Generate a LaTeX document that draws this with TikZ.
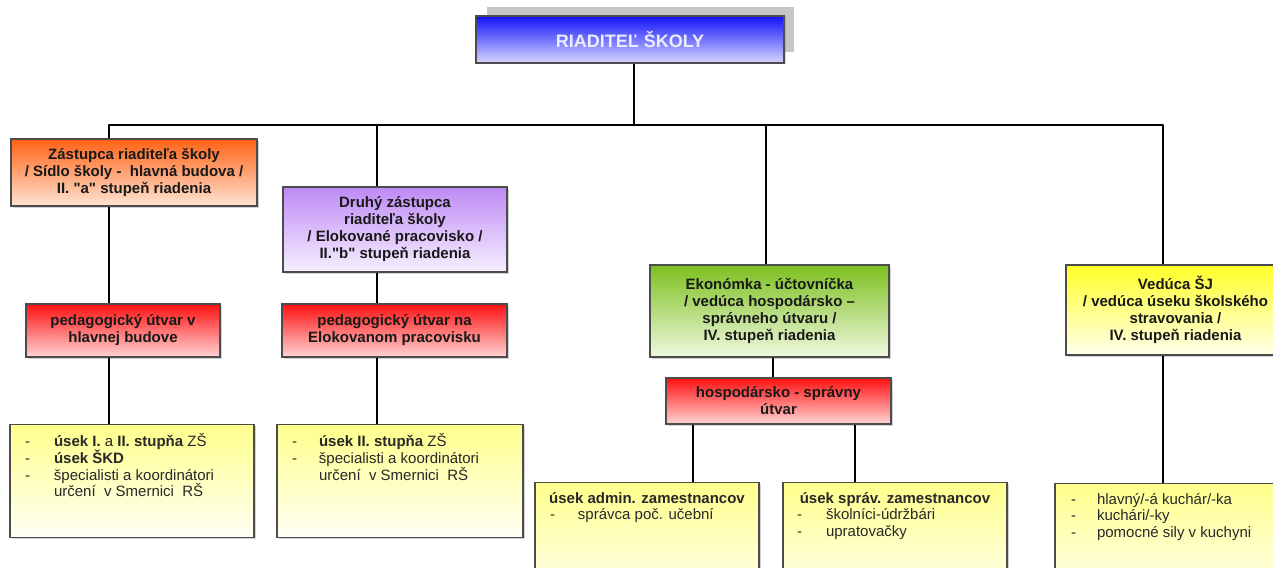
\documentclass[tikz,border=0pt]{standalone}
\usepackage{fontspec}
\setmainfont{Liberation Sans}[Ligatures=TeXOff]
\usetikzlibrary{shadows}

\definecolor{modraH}{RGB}{18,18,250}
\definecolor{modraD}{RGB}{215,215,255}
\definecolor{oranzH}{RGB}{255,98,20}
\definecolor{oranzD}{RGB}{255,228,212}
\definecolor{fialH}{RGB}{190,138,245}
\definecolor{fialD}{RGB}{246,240,255}
\definecolor{cervH}{RGB}{255,16,16}
\definecolor{cervD}{RGB}{255,212,212}
\definecolor{zelH}{RGB}{124,192,30}
\definecolor{zelD}{RGB}{240,248,224}
\definecolor{zltH}{RGB}{255,255,40}
\definecolor{zltD}{RGB}{255,255,235}
\definecolor{zltsH}{RGB}{255,255,140}
\definecolor{zltsD}{RGB}{255,255,246}
\definecolor{textS}{RGB}{40,40,40}

\tikzset{
    box/.style={draw=black!70, line width=1.2pt, inner sep=0pt, align=center,
        text=black!90, font=\bfseries\fontsize{15}{17}\selectfont,
        drop shadow={shadow xshift=1.5pt, shadow yshift=-1.5pt, opacity=0.35}},
    usek/.style={box, top color=zltsH, bottom color=zltsD, anchor=north,
        text=textS, font=\fontsize{15}{16.7}\selectfont},
    conn/.style={line width=2.8pt, line join=round}
}

\begin{document}
\begin{tikzpicture}[x=1pt, y=-1pt]
            \useasboundingbox (0,0) rectangle (1273,567);
            \clip (0,0) rectangle (1273,567);

            % Draw the head box with its grey backing
            \fill[gray!45] (487,7) rectangle (794,52);
            \node[box, top color=modraH, bottom color=modraD, minimum width=308, minimum height=47,
                text={rgb,255:red,236;green,236;blue,255}, font=\bfseries\fontsize{18}{20}\selectfont]
                (riad) at (630,39.5) {RIADITEĽ ŠKOLY};

            % Draw the second level
            \node[box, top color=oranzH, bottom color=oranzD, minimum width=246, minimum height=67]
                (zast) at (134,172.5) {Zástupca riaditeľa školy\\/ Sídlo školy -\ \ hlavná budova /\\II. "a" stupeň riadenia};
            \node[box, top color=fialH, bottom color=fialD, minimum width=224, minimum height=85]
                (druhy) at (395,229.5) {Druhý zástupca\\riaditeľa školy\\/ Elokované pracovisko /\\II."b" stupeň riadenia};
            \node[box, top color=zelH, bottom color=zelD, minimum width=239, minimum height=92]
                (ekon) at (769.5,311) {Ekonómka - účtovníčka\\/ vedúca hospodársko –\\správneho útvaru /\\IV. stupeň riadenia};
            \node[box, top color=zltH, bottom color=zltD, minimum width=219, minimum height=90]
                (veduca) at (1175.5,310) {Vedúca ŠJ\\/ vedúca úseku školského\\stravovania /\\IV. stupeň riadenia};

            % Draw the red units
            \node[box, top color=cervH, bottom color=cervD, minimum width=194, minimum height=53]
                (ped1) at (123,330.5) {pedagogický útvar v\\hlavnej budove};
            \node[box, top color=cervH, bottom color=cervD, minimum width=225, minimum height=53]
                (ped2) at (394.5,330.5) {pedagogický útvar na\\Elokovanom pracovisku};
            \node[box, top color=cervH, bottom color=cervD, minimum width=225, minimum height=46]
                (hosp) at (778.5,401) {hospodársko - správny\\útvar};

            % Draw the bottom boxes
            \node[usek, minimum width=244, minimum height=113] (usek1) at (132,424)
                {\begin{minipage}[c][113pt][t]{244pt}\setlength{\lineskiplimit}{-20pt}\vspace*{9pt}\raggedright
                \hspace*{15pt}\makebox[29pt][l]{-}\textbf{úsek I.} a \textbf{II. stupňa} ZŠ\strut\par
                \hspace*{15pt}\makebox[29pt][l]{-}\textbf{úsek ŠKD}\strut\par
                \hspace*{15pt}\makebox[29pt][l]{-}špecialisti a koordinátori\strut\par
                \hspace*{44pt}určení\ \ v Smernici\ \ RŠ\strut\par
                \end{minipage}};
            \node[usek, minimum width=246, minimum height=113] (usek2) at (400,424)
                {\begin{minipage}[c][113pt][t]{246pt}\setlength{\lineskiplimit}{-20pt}\vspace*{9pt}\raggedright
                \hspace*{15pt}\makebox[27pt][l]{-}\textbf{úsek II. stupňa} ZŠ\strut\par
                \hspace*{15pt}\makebox[27pt][l]{-}špecialisti a koordinátori\strut\par
                \hspace*{42pt}určení\ \ v Smernici\ \ RŠ\strut\par
                \end{minipage}};
            \node[usek, minimum width=224, minimum height=120] (admin) at (647,482)
                {\begin{minipage}[c][120pt][t]{224pt}\setlength{\lineskiplimit}{-20pt}\vspace*{9pt}
                {\centering\textbf{úsek admin. zamestnancov}\strut\par}\raggedright
                \hspace*{15pt}\makebox[28pt][l]{-}správca poč. učební\strut\par
                \end{minipage}};
            \node[usek, minimum width=224, minimum height=120] (sprav) at (895,482)
                {\begin{minipage}[c][120pt][t]{224pt}\setlength{\lineskiplimit}{-20pt}\vspace*{9pt}
                {\centering\textbf{úsek správ. zamestnancov}\strut\par}\raggedright
                \hspace*{14pt}\makebox[29pt][l]{-}školníci-údržbári\strut\par
                \hspace*{14pt}\makebox[29pt][l]{-}upratovačky\strut\par
                \end{minipage}};
            \node[usek, minimum width=240, minimum height=120] (kuch) at (1175,483)
                {\begin{minipage}[c][120pt][t]{240pt}\setlength{\lineskiplimit}{-20pt}\vspace*{9pt}\raggedright
                \hspace*{16pt}\makebox[26pt][l]{-}hlavný/-á kuchár/-ka\strut\par
                \hspace*{16pt}\makebox[26pt][l]{-}kuchári/-ky\strut\par
                \hspace*{16pt}\makebox[26pt][l]{-}pomocné sily v kuchyni\strut\par
                \end{minipage}};

            % Draw the connectors
            \coordinate (bus) at (634,125);
            \coordinate (k1) at (109,125);
            \coordinate (k2) at (377,125);
            \coordinate (k3) at (766,125);
            \coordinate (k4) at (1163,125);
            \coordinate (x5) at (773,0);
            \coordinate (x6) at (693,0);
            \coordinate (x7) at (855,0);

            \draw[conn] (bus |- riad.south) -- (bus);
            \draw[conn] (k1 |- zast.north) -- (k1) -- (k4) -- (k4 |- veduca.north);
            \draw[conn] (k2) -- (k2 |- druhy.north);
            \draw[conn] (k3) -- (k3 |- ekon.north);

            \draw[conn] (k1 |- zast.south) -- (k1 |- ped1.north);
            \draw[conn] (k1 |- ped1.south) -- (k1 |- usek1.north);
            \draw[conn] (k2 |- druhy.south) -- (k2 |- ped2.north);
            \draw[conn] (k2 |- ped2.south) -- (k2 |- usek2.north);

            \draw[conn] (x5 |- ekon.south) -- (x5 |- hosp.north);
            \draw[conn] (x6 |- hosp.south) -- (x6 |- admin.north);
            \draw[conn] (x7 |- hosp.south) -- (x7 |- sprav.north);
            \draw[conn] (k4 |- veduca.south) -- (k4 |- kuch.north);
\end{tikzpicture}
\end{document}
